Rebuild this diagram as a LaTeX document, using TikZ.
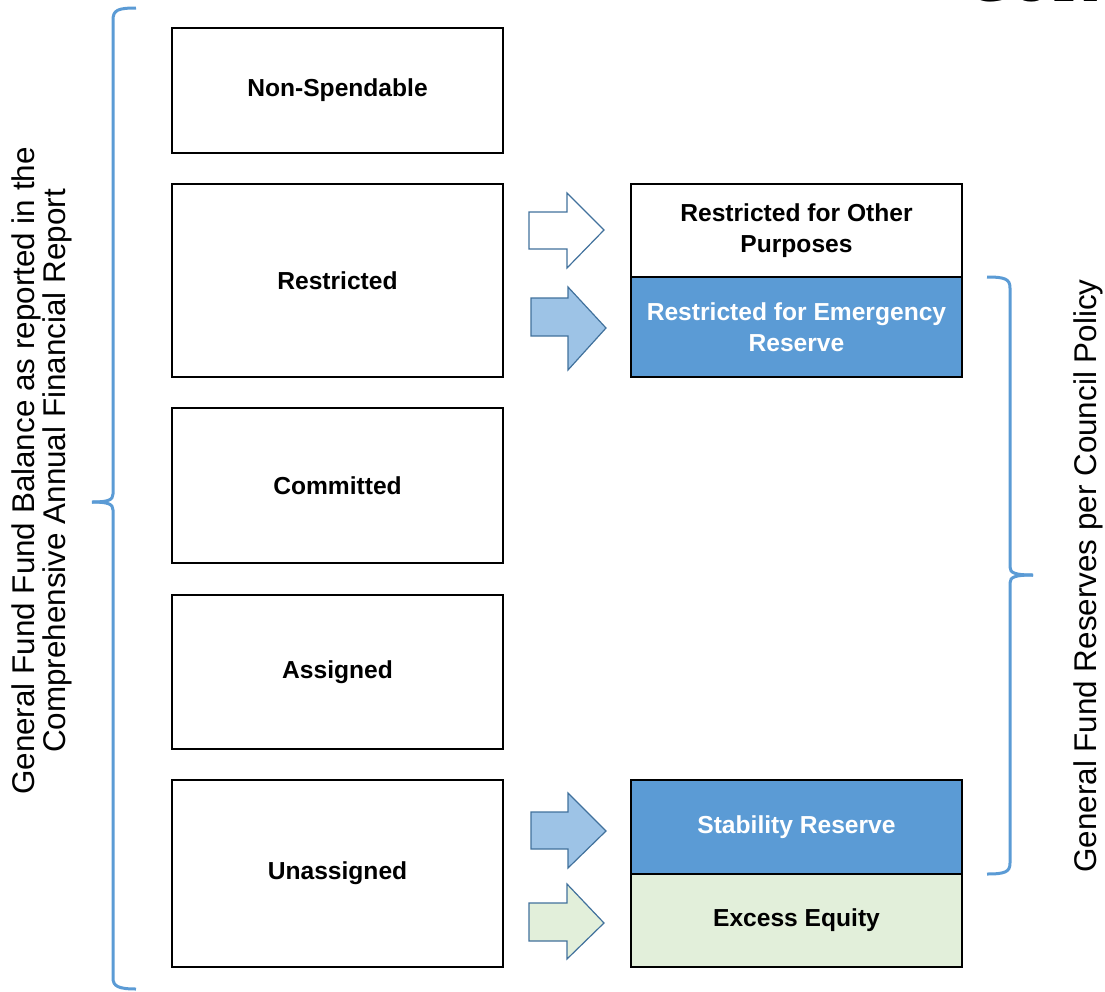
\documentclass[tikz,border=0pt]{standalone}
\usepackage{fontspec}
\setmainfont{Liberation Sans}
\newfontfamily\serifcut{Liberation Serif}
\definecolor{midblue}{HTML}{5B9BD5}
\definecolor{lightblue}{HTML}{9DC3E6}
\definecolor{palegreen}{HTML}{E2EFDA}
\definecolor{arrowedge}{HTML}{41719C}
\begin{document}
\begin{tikzpicture}[x=0.5pt,y=-0.5pt,
  box/.style={draw=black, line width=1.25pt, minimum width=165.5pt, inner sep=0pt,
    align=center, font=\fontsize{12.3}{15.5}\selectfont\bfseries},
  bluebox/.style={box, fill=midblue, text=white},
  greenbox/.style={box, fill=palegreen},
  blockarrow/.style={draw=arrowedge, line width=0.6pt, line join=miter},
  brace/.style={draw=midblue, line width=1.5pt},
  sidelabel/.style={rotate=90, align=center, font=\fontsize{15.7}{15.5}\selectfont}]
\useasboundingbox (0,0) rectangle (1105,992);

% clipped title fragment at the top edge
\begin{scope}
\clip (0,0) rectangle (1105,992);
\node[anchor=base west, inner sep=0pt, font=\serifcut\fontsize{30}{30}\selectfont\bfseries] (title) at (966,1.5) {CUR};
\end{scope}

% left column
\node[box, minimum height=62.5pt] (ns) at (337.5,90.5) {Non-Spendable};
\node[box, minimum height=96.5pt] (res) at (337.5,280.5) {Restricted};
\node[box, minimum height=77.5pt] (com) at (337.5,485.5) {Committed};
\node[box, minimum height=77pt] (ass) at (337.5,672) {Assigned};
\node[box, minimum height=93.5pt] (una) at (337.5,873.5) {Unassigned};

% right column
\node[box, minimum height=46.5pt] (oth) at (796.5,230.5) {Restricted for Other\\Purposes};
\node[bluebox, minimum height=50pt] (eme) at (796.5,327) {Restricted for Emergency\\Reserve};
\node[bluebox, minimum height=47pt] (sta) at (796.5,827) {Stability Reserve};
\node[greenbox, minimum height=46.5pt] (exc) at (796.5,920.5) {Excess Equity};

% block arrows
\draw[blockarrow, fill=white] (529,212) -- (567,212) -- (567,193) -- (604,230) -- (567,268) -- (567,249) -- (529,249) -- cycle;
\draw[blockarrow, fill=lightblue] (531,298) -- (568,298) -- (568,287) -- (606,328) -- (568,370) -- (568,336) -- (531,336) -- cycle;
\draw[blockarrow, fill=lightblue] (531,812) -- (568,812) -- (568,793) -- (606,831) -- (568,868) -- (568,849) -- (531,849) -- cycle;
\draw[blockarrow, fill=palegreen] (529,903) -- (567,903) -- (567,884) -- (604,923) -- (567,959) -- (567,941) -- (529,941) -- cycle;

% left brace
\draw[brace] (136,8) .. controls (118,8) and (113,10) .. (113,20) -- (113,494)
  .. controls (113,500) and (108,502) .. (92,502);
\draw[brace] (92,502) .. controls (108,502) and (113,504) .. (113,510) -- (113,978)
  .. controls (113,986) and (118,989) .. (136,989);

% right brace
\draw[brace] (987,277) .. controls (1005,277) and (1010,279) .. (1010,288) -- (1010,567)
  .. controls (1010,573) and (1015,575) .. (1033,575);
\draw[brace] (1033,575) .. controls (1015,575) and (1010,577) .. (1010,583) -- (1010,863)
  .. controls (1010,872) and (1005,874) .. (987,874);

% side labels
\node[sidelabel] (leftlabel) at (42,471) {General Fund Fund Balance as reported in the\\Comprehensive Annual Financial Report};
\node[sidelabel] (rightlabel) at (1088,576) {General Fund Reserves per Council Policy};
\end{tikzpicture}
\end{document}
